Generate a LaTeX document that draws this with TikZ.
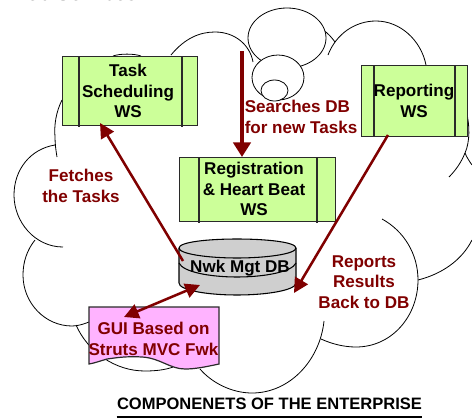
\documentclass[tikz,border=0pt]{standalone}
\usepackage{fontspec}
\setmainfont{Liberation Sans}
\usetikzlibrary{arrows.meta}
\definecolor{wsgreen}{HTML}{CCFF99}
\definecolor{docpink}{HTML}{FFB3FF}
\definecolor{dbgray}{HTML}{CFCFCF}
\definecolor{darkred}{HTML}{800000}
\definecolor{edgegray}{HTML}{2A2A2A}
\tikzset{
  cloudline/.style={draw=black,line width=0.6pt},
  puff/.style={cloudline,fill=white},
  wsbox/.style={draw=edgegray,line width=0.9pt,fill=wsgreen,inner sep=0pt,anchor=north west},
  wsbar/.style={draw=edgegray,line width=0.8pt},
  blacklabel/.style={font=\fontsize{12.8}{15.4}\selectfont\bfseries,align=center,text=black,inner sep=0pt},
  redlabel/.style={font=\fontsize{12.8}{15.4}\selectfont\bfseries,align=center,text=darkred,inner sep=0pt},
  thinarrow/.style={draw=darkred,line width=1.9pt,-{Triangle[length=11pt,width=11pt]}},
  twoway/.style={draw=darkred,line width=1.9pt,{Triangle[length=11pt,width=11pt]}-{Triangle[length=11pt,width=11pt]}},
  thickarrow/.style={draw=darkred,line width=3pt,-{Triangle[length=11pt,width=13pt]}},
}
\begin{document}
\begin{tikzpicture}[x=0.75pt,y=-0.75pt]
\useasboundingbox (0,0) rectangle (472,418);
\clip (0,0) rectangle (472,418);
\fill[white] (0,0) rectangle (472,418);

% cut-off line of text at the top edge
\node[anchor=base west,inner sep=0pt,font=\fontsize{15.8}{17}\selectfont,text=black] (toptext) at (7,0.5) {Web Services};

% enterprise cloud
\draw[cloudline] (171,55) .. controls (185,38) and (200,32) .. (215,32) .. controls (235,32) and (250,45) .. (253,62);
\draw[cloudline] (113,56) .. controls (120,53.5) and (134,53.5) .. (141,56);
\draw[cloudline] (62,100) .. controls (56,112) and (54,125) .. (55,137) .. controls (55,144) and (56,151) .. (57,157);
\draw[cloudline] (55,145) .. controls (30,149) and (14,170) .. (14,195) .. controls (14,222) and (35,247) .. (63,247);
\draw[cloudline] (35,240) .. controls (27,250) and (23,262) .. (23,275) .. controls (23,303) and (45,326) .. (72,326) .. controls (78,326) and (84,324) .. (89,322);
\draw[cloudline] (76,325) .. controls (88,352) and (115,371) .. (145,371) .. controls (155,371) and (165,370) .. (173,367);
\draw[cloudline] (200,369) .. controls (212,383) and (232,393) .. (252,393) .. controls (290,393) and (320,360) .. (324,321);
\draw[cloudline] (321,339) .. controls (332,344) and (344,347) .. (356,347) .. controls (392,347) and (418,316) .. (418,280) .. controls (418,254) and (404,231) .. (382,219);
\draw[cloudline] (418,280) .. controls (442,274) and (462,260) .. (472,240);
\draw[cloudline] (465,153) .. controls (467,158) and (470,162) .. (472,165);
\draw[cloudline] (466,110) .. controls (470,125) and (470,142) .. (465,153) .. controls (461,163) and (455,171) .. (449,177);
\draw[cloudline] (328,55) .. controls (336,34) and (355,21) .. (376,21) .. controls (400,21) and (421,40) .. (426,65);
\draw[cloudline] (323,30) .. controls (328,33) and (332,38) .. (335,42);

% small puffs
\path[puff] (287,38) ellipse [x radius=39,y radius=30];
\path[puff] (278,77.5) ellipse [x radius=26,y radius=22.5];
\path[puff] (274.5,90.5) ellipse [x radius=13.5,y radius=10.5];

% web service boxes
\node[wsbox,minimum width=135*0.75pt,minimum height=69*0.75pt] (task) at (62,56) {};
\draw[wsbar] (79,56) -- (79,126.5) (182,56) -- (182,126.5);
\node[wsbox,minimum width=156*0.75pt,minimum height=64*0.75pt] (reg) at (179,157) {};
\draw[wsbar] (199,157) -- (199,222.5) (317,157) -- (317,222.5);
\node[wsbox,minimum width=106*0.75pt,minimum height=71*0.75pt] (rep) at (361,65) {};
\draw[wsbar] (374,65) -- (374,137) (455,65) -- (455,137);

% database
\path[draw=black,line width=0.8pt,fill=dbgray] (179,248)
  .. controls (179,242) and (208,239) .. (237,239)
  .. controls (266,239) and (296,242) .. (296,248)
  -- (296,283)
  .. controls (296,290) and (268,295) .. (237,295)
  .. controls (206,295) and (179,290) .. (179,283) -- cycle;
\draw[line width=0.8pt] (179,248) .. controls (179,254) and (208,258) .. (237,258) .. controls (266,258) and (296,254) .. (296,248);
\draw[line width=0.8pt] (179,263) .. controls (183,272) and (210,277) .. (237,277) .. controls (264,277) and (292,272) .. (296,263);
\node[blacklabel] (db) at (240,268) {Nwk Mgt DB};

% GUI document
\path[draw=edgegray,line width=0.9pt,fill=docpink] (89,307) -- (219,307) -- (219,364)
  .. controls (205,367) and (195,369) .. (185,369)
  .. controls (170,369) and (160,358) .. (142,357)
  .. controls (125,356) and (115,358) .. (107,359)
  .. controls (100,361) and (95,363) .. (89,364) -- cycle;
\node[redlabel] (gui) at (153.5,339) {GUI Based on\\Struts MVC Fwk};

% labels
\node[blacklabel] (tasklabel) at (128,91) {Task\\Scheduling\\WS};
\node[blacklabel] (reglabel) at (254,189) {Registration\\\& Heart Beat\\WS};
\node[blacklabel] (replabel) at (414,101) {Reporting\\WS};
\node[redlabel,align=left,anchor=west] (searches) at (244.5,117) {Searches DB\\for new Tasks};
\node[redlabel] (fetches) at (81,186) {Fetches\\the Tasks};
\node[redlabel] (reports) at (364,282) {Reports\\Results\\Back to DB};
\node[anchor=base,inner sep=0pt,font=\fontsize{12.4}{14}\selectfont\bfseries,text=black] (title) at (269.5,409) {COMPONENETS OF THE ENTERPRISE};
\draw[line width=0.9pt] (title.base west)++(0,8) coordinate (ulL) -- (title.base east |- ulL);

% connectors
\coordinate (fetchfrom) at (183,261);
\coordinate (fetchtip) at (100,123);
\coordinate (searchfrom) at (242,51);
\coordinate (searchtip) at (242,157);
\coordinate (reportfrom) at (388,135);
\coordinate (reporttip) at (294,293);
\coordinate (guitip) at (124,317);
\coordinate (dbtip) at (200,285);
\draw[thinarrow] (fetchfrom) -- (fetchtip);
\draw[thickarrow] (searchfrom) -- (searchtip);
\draw[thinarrow] (reportfrom) -- (reporttip);
\draw[twoway] (guitip) -- (dbtip);
\end{tikzpicture}
\end{document}
